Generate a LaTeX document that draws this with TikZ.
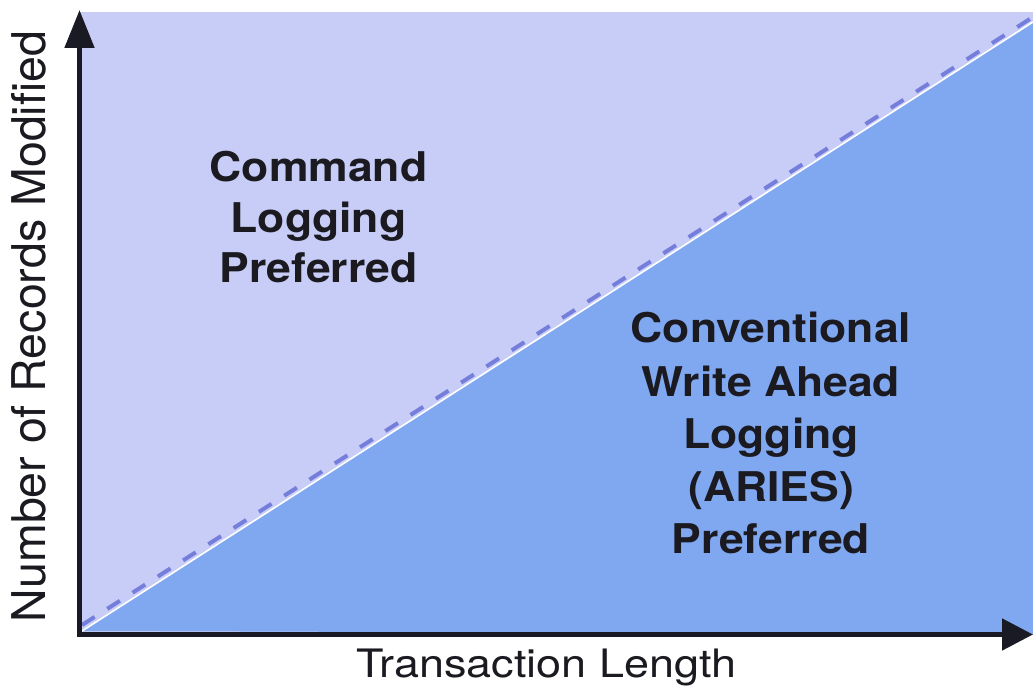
\documentclass[tikz,border=0pt]{standalone}
\usepackage{fontspec}
\setmainfont{TeX Gyre Heros}
\usetikzlibrary{arrows.meta}

\definecolor{regionlight}{RGB}{199,205,246}
\definecolor{regionblue}{RGB}{128,168,241}
\definecolor{dividerblue}{RGB}{118,126,220}
\definecolor{axisdark}{RGB}{26,26,36}
\definecolor{ink}{RGB}{26,26,32}

% slightly condensed vertical scale for the horizontal labels
\newcommand\squash[2][0.92]{\scalebox{1}[#1]{#2}}

\begin{document}
\begin{tikzpicture}[x=1pt,y=-1pt,
  axes/.style={line width=5pt, draw=axisdark, line join=miter,
    {Triangle[length=38pt,width=29pt]}-{Triangle[length=31pt,width=31pt]}},
  divider/.style={draw=dividerblue, line width=4pt, dash pattern=on 15pt off 15pt},
  seam/.style={draw=white, line width=1.6pt},
  regiontext/.style={font=\fontsize{44.5}{50}\selectfont\bfseries, text=ink,
    anchor=base, inner sep=0pt},
  axistext/.style={font=\fontsize{45}{50}\selectfont, text=ink,
    anchor=base, inner sep=0pt}]
\useasboundingbox (0,0) rectangle (1033,692);

% corner points of the plot area
\coordinate (O) at (79.5,634.5);
\coordinate (ytip) at (79.5,10);
\coordinate (xtip) at (1033,634.5);
\coordinate (TL) at (80,12);
\coordinate (BR) at (1033,634);
\coordinate (hypBot) at (82,631);
\coordinate (hypTop) at (1033,22);
\coordinate (dashBot) at (82,625);
\coordinate (dashTop) at (1033,17);

% the two regions
\fill[regionlight] (TL) rectangle (BR);
\fill[regionblue] (hypBot) -- (hypTop) -- (BR) -- cycle;
\draw[seam] (hypBot) -- (hypTop);
\draw[divider] (dashBot) -- (dashTop);

% region labels
\node[regiontext] (cmd1) at (318.5,182) {\squash{Command}};
\node[regiontext] (cmd2) at (318.5,232.5) {\squash{Logging}};
\node[regiontext] (cmd3) at (318.5,283) {\squash{Preferred}};

\node[regiontext] (wal1) at (771,343) {\squash{Conventional}};
\node[regiontext] (wal2) at (771,396) {\squash{Write Ahead}};
\node[regiontext] (wal3) at (771,448.5) {\squash{Logging}};
\node[regiontext] (wal4) at (771,501) {\squash{(ARIES)}};
\node[regiontext] (wal5) at (771,553) {\squash{Preferred}};

% axes
\draw[axes] (ytip) -- (O) -- (xtip);

% axis titles
\node[axistext] (xlabel) at (546.5,677.5) {\squash[0.87]{Transaction Length}};
\node[axistext, font=\fontsize{46.5}{50}\selectfont, rotate=90] (ylabel) at (45,326.5) {Number of Records Modified};
\end{tikzpicture}
\end{document}
